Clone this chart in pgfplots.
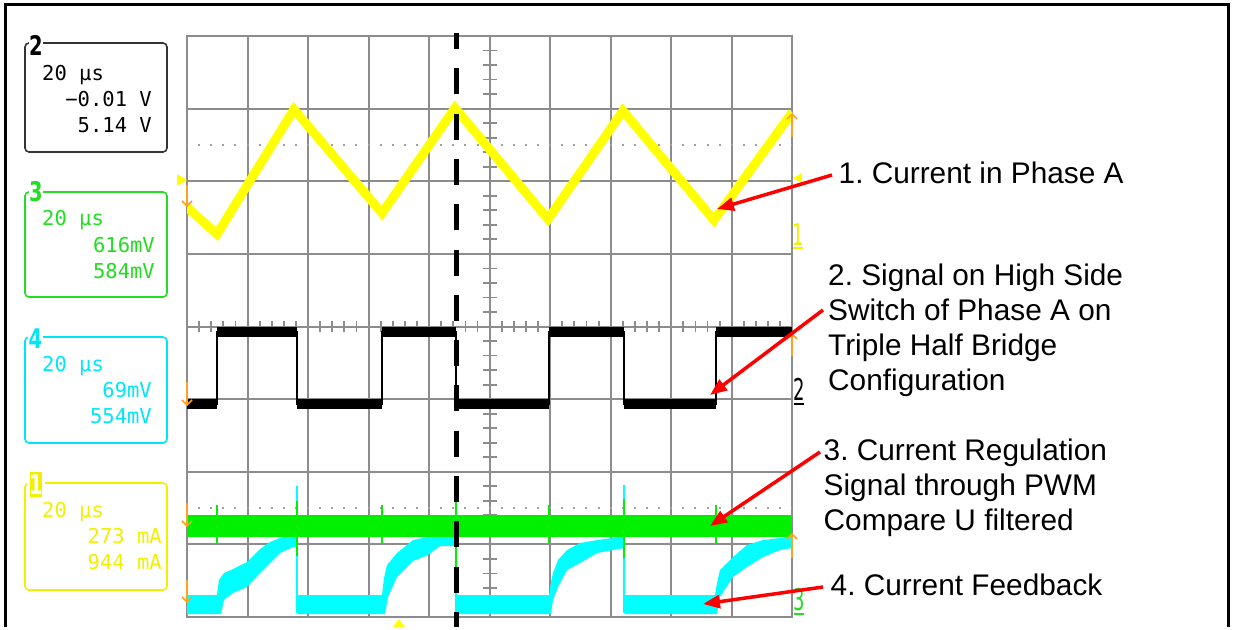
\documentclass[border=0pt]{standalone}
\usepackage{pgfplots}
\pgfplotsset{compat=1.18}
\usepackage{fontspec}
\usetikzlibrary{arrows.meta}
\newfontfamily\annfont{Liberation Sans}
\newfontfamily\monofont{DejaVu Sans Mono}
\newfontfamily\labfont{DejaVu Sans}
\definecolor{scopegrid}{HTML}{8C8C8C}
\definecolor{dotgray}{HTML}{A0A0A0}
\definecolor{trYellow}{HTML}{FFFF00}
\definecolor{trGreen}{HTML}{00F000}
\definecolor{trCyan}{HTML}{00FFFF}
\definecolor{txYellow}{HTML}{F0F000}
\definecolor{txGreen}{HTML}{22DD22}
\definecolor{txCyan}{HTML}{00E6F6}
\definecolor{mkOrange}{HTML}{FFA020}
\definecolor{arrRed}{HTML}{FF0000}
\definecolor{boxBlack}{HTML}{333333}
\tikzset{
  boxtxt/.style={inner sep=0pt, font={\monofont\fontsize{20.5}{24}\selectfont}},
  chlab/.style={inner sep=0.6pt, font={\labfont\bfseries\fontsize{27}{27}\selectfont}, xscale=0.72},
  ann/.style={inner sep=0pt, anchor=base west, font={\annfont\fontsize{29.8}{35}\selectfont}},
  rlab/.style={inner sep=0pt, anchor=base, font={\labfont\fontsize{30}{30}\selectfont}, xscale=0.6},
}
\begin{document}
\frenchspacing
\begin{tikzpicture}
\begin{scope}[x=1pt,y=-1pt]
\path[use as bounding box] (0,0) rectangle (1235,627);
\fill[white] (0,0) rectangle (1235,627);
\end{scope}

\begin{axis}[
  at={(187pt,-617pt)}, anchor=south west,
  scale only axis, width=605.3pt, height=581pt,
  xmin=0, xmax=200, ymin=0, ymax=8,
  xtick={0,20,...,200}, ytick={0,1,...,8},
  xticklabels={}, yticklabels={},
  tick label style={opacity=0},
  major tick length=0pt,
  grid=major,
  major grid style={draw=scopegrid, line width=2pt},
  axis line style={draw=scopegrid, line width=2pt},
  no markers,
  unbounded coords=jump,
  every axis plot/.append style={line cap=butt},
]
% minor ticks on the centre cross
\pgfplotsinvokeforeach{1,...,39}{\draw[scopegrid, line width=1.8pt] (axis cs:100,{#1*0.2}) ++(-7pt,0) -- ++(14pt,0);}
\pgfplotsinvokeforeach{1,...,49}{\draw[scopegrid, line width=1.8pt] (axis cs:{#1*4},4) ++(0,-5.5pt) -- ++(0,11pt);}
% dotted level lines
\draw[dotgray, line width=2pt, dash pattern=on 2pt off 10.106pt, dash phase=1.006pt] (axis cs:0,6.5) -- (axis cs:200,6.5);
\draw[dotgray, line width=2pt, dash pattern=on 2pt off 10.106pt, dash phase=1.006pt] (axis cs:0,1.5) -- (axis cs:200,1.5);

% channel 4: current feedback (cyan band, envelope of the noisy trace)
\addplot[fill=trCyan, draw=none] coordinates {(0,0.3028) (9.91,0.3028) (10.57,0.5092) (12.23,0.6056) (15.20,0.6606) (19.82,0.7570) (24.12,0.9359) (27.42,1.0322) (30.73,1.0873) (35.02,1.1285) (36.35,1.1423) (36.35,0.9634) (35.02,0.9634) (30.73,0.8808) (27.42,0.7432) (24.12,0.6056) (19.82,0.4129) (15.20,0.3303) (12.23,0.2340) (11.23,0.0413) (0,0.0413)} -- cycle;
\addplot[fill=trCyan, draw=none] coordinates {(36.35,0.3028) (64.43,0.3028) (65.09,0.5367) (66.08,0.7157) (69.39,0.8808) (74.67,1.0597) (79.63,1.1010) (83.59,1.1285) (88.78,1.1423) (88.78,0.9772) (83.59,0.9772) (79.63,0.8533) (74.67,0.7707) (69.39,0.5505) (66.41,0.2753) (65.42,0.0413) (36.35,0.0413)} -- cycle;
\addplot[fill=trCyan, draw=none] coordinates {(88.78,0.3028) (119.61,0.3028) (120.27,0.4817) (120.93,0.6056) (122.58,0.7845) (125.56,0.9221) (129.85,1.0184) (135.47,1.0597) (140.75,1.0873) (144.49,1.1148) (144.49,0.9496) (140.75,0.9221) (135.47,0.8808) (129.85,0.7432) (125.56,0.6468) (122.58,0.4129) (120.93,0.2340) (120.27,0.0413) (88.78,0.0413)} -- cycle;
\addplot[fill=trCyan, draw=none] coordinates {(144.49,0.3028) (174.46,0.3028) (175.12,0.4679) (176.11,0.6468) (180.40,0.8258) (185.03,0.9909) (190.32,1.0597) (195.93,1.0873) (200,1.1148) (200,0.9496) (195.93,0.9221) (190.32,0.8258) (185.03,0.6881) (180.40,0.5505) (176.11,0.2753) (175.12,0.0413) (144.49,0.0413)} -- cycle;
\addplot[trCyan, line width=2pt] coordinates {(36.35,1.80) (36.35,0.05) (36.35,nan) (88.78,1.06) (88.78,0.05) (88.78,nan) (144.49,1.82) (144.49,0.05)};

% channel 3: current regulation signal (green)
\addplot[trGreen, line width=22pt] coordinates {(0,1.252) (200,1.252)};
\addplot[trGreen, line width=2pt] coordinates {(36.35,0.84) (36.35,1.60) (36.35,nan) (88.78,0.69) (88.78,1.59) (88.78,nan) (144.49,0.81) (144.49,1.62) (144.49,nan) (9.91,1.0) (9.91,1.54) (9.91,nan) (64.53,1.0) (64.53,1.54) (64.53,nan) (119.71,1.0) (119.71,1.54) (119.71,nan) (174.69,1.0) (174.69,1.54)};

% channel 2: high side switch signal (black)
\addplot[black, line width=2pt] coordinates {(0,2.938) (9.91,2.938) (9.91,3.929) (36.35,3.929) (36.35,2.938) (64.53,2.938) (64.53,3.929) (88.78,3.929) (88.78,2.938) (119.71,2.938) (119.71,3.929) (144.49,3.929) (144.49,2.938) (174.69,2.938) (174.69,3.929) (200,3.929)};
\addplot[black, line width=10pt] coordinates {(0,2.938) (9.91,2.938) (9.91,nan) (9.91,3.929) (36.35,3.929) (36.35,nan) (36.35,2.938) (64.53,2.938) (64.53,nan) (64.53,3.929) (88.78,3.929) (88.78,nan) (88.78,2.938) (119.71,2.938) (119.71,nan) (119.71,3.929) (144.49,3.929) (144.49,nan) (144.49,2.938) (174.69,2.938) (174.69,nan) (174.69,3.929) (200,3.929)};

% channel 1: current in phase A (yellow)
\addplot[trYellow, line width=9pt] coordinates {(0,5.643) (9.91,5.271) (35.35,6.99) (64.43,5.560) (88.55,7.01) (119.28,5.478) (144.06,6.97) (174.13,5.464) (200,6.95)};
\end{axis}

\begin{scope}[x=1pt,y=-1pt]
% outer frame
\draw[black, line width=3pt] (5.3,627) -- (5.3,4.7) -- (1228.3,4.7) -- (1228.3,627);

% trigger / reference markers
\fill[trYellow] (177,174) -- (187,180) -- (177,186) -- cycle;
\fill[trYellow] (793,178) -- (802,173) -- (802,183) -- cycle;
\foreach \ya/\yb in {185/207, 382/406, 503/527, 580/603}{
  \draw[mkOrange, line width=1.5pt, -{Straight Barb[length=5pt,width=10pt]}] (187,\ya) -- (187,\yb);}
\foreach \ya/\yb in {137/113, 356/333, 558/533}{
  \draw[mkOrange, line width=1.5pt, -{Straight Barb[length=5pt,width=10pt]}] (792,\ya) -- (792,\yb);}
\fill[trYellow] (393,627) -- (399,619) -- (405,627) -- cycle;

% cursor line
\draw[black, line width=4.8pt, dash pattern=on 26pt off 19.3pt, dash phase=10pt] (456.3,33) -- (456.3,627);

% channel labels on the right
\node[rlab, text=txYellow] at (798,245) {1};
\draw[txYellow, line width=2pt] (793,248) -- (803,248);
\node[rlab, text=black] at (799,400) {2};
\draw[black, line width=2pt] (794,404) -- (804,404);
\node[rlab, text=txGreen] at (799,610) {3};
\draw[txGreen, line width=2pt] (794,614) -- (804,614);

% info boxes
\draw[boxBlack, line width=1.6pt, rounded corners=4pt] (25,43) rectangle (167,152);
\node[chlab, fill=white, text=black] at (36,45) {2};
\node[boxtxt, anchor=base west, text=black] at (42,80) {20 µs};
\node[boxtxt, anchor=base east, text=black] at (152,106) {−0.01 V};
\node[boxtxt, anchor=base east, text=black] at (152,132) {5.14 V};

\draw[txGreen, line width=1.6pt, rounded corners=4pt] (25,192) rectangle (167,297);
\node[chlab, fill=white, text=txGreen] at (36,192) {3};
\node[boxtxt, anchor=base west, text=txGreen] at (42,225) {20 µs};
\node[boxtxt, anchor=base east, text=txGreen] at (155,252) {616mV};
\node[boxtxt, anchor=base east, text=txGreen] at (155,278) {584mV};

\draw[txCyan, line width=1.6pt, rounded corners=4pt] (25,337) rectangle (167,443);
\node[chlab, fill=white, text=txCyan] at (35.5,339) {4};
\node[boxtxt, anchor=base west, text=txCyan] at (42,371) {20 µs};
\node[boxtxt, anchor=base east, text=txCyan] at (152,397) {69mV};
\node[boxtxt, anchor=base east, text=txCyan] at (152,423) {554mV};

\draw[txYellow, line width=1.6pt, rounded corners=4pt] (25,483) rectangle (167,590);
\fill[white] (27,470) rectangle (45,499);
\fill[txYellow] (30,472) rectangle (42,497);
\node[chlab, text=white] at (36,484.5) {1};
\node[boxtxt, anchor=base west, text=txYellow] at (42,517) {20 µs};
\node[boxtxt, anchor=base east, text=txYellow] at (162,543) {273 mA};
\node[boxtxt, anchor=base east, text=txYellow] at (162,569) {944 mA};

% annotations
\draw[arrRed, line width=3.5pt, -{Triangle[length=17pt,width=13pt]}] (832,175) -- (717,209);
\draw[arrRed, line width=3.5pt, -{Triangle[length=17pt,width=13pt]}] (823,310) -- (710,395);
\draw[arrRed, line width=3.5pt, -{Triangle[length=17pt,width=13pt]}] (820,452) -- (710,526);
\draw[arrRed, line width=3.5pt, -{Triangle[length=17pt,width=13pt]}] (823,587) -- (703,604);

\node[ann] at (838.5,183.3) {1. Current in Phase A};
\node[ann] at (828,285) {2. Signal on High Side};
\node[ann] at (828,320.3) {Switch of Phase A on};
\node[ann] at (828,355.5) {Triple Half Bridge};
\node[ann] at (828,390.7) {Configuration};
\node[ann] at (823.5,460) {3. Current Regulation};
\node[ann] at (823.5,495) {Signal through PWM};
\node[ann] at (823.5,530) {Compare U filtered};
\node[ann] at (830.5,595) {4. Current Feedback};
\end{scope}
\end{tikzpicture}
\end{document}
